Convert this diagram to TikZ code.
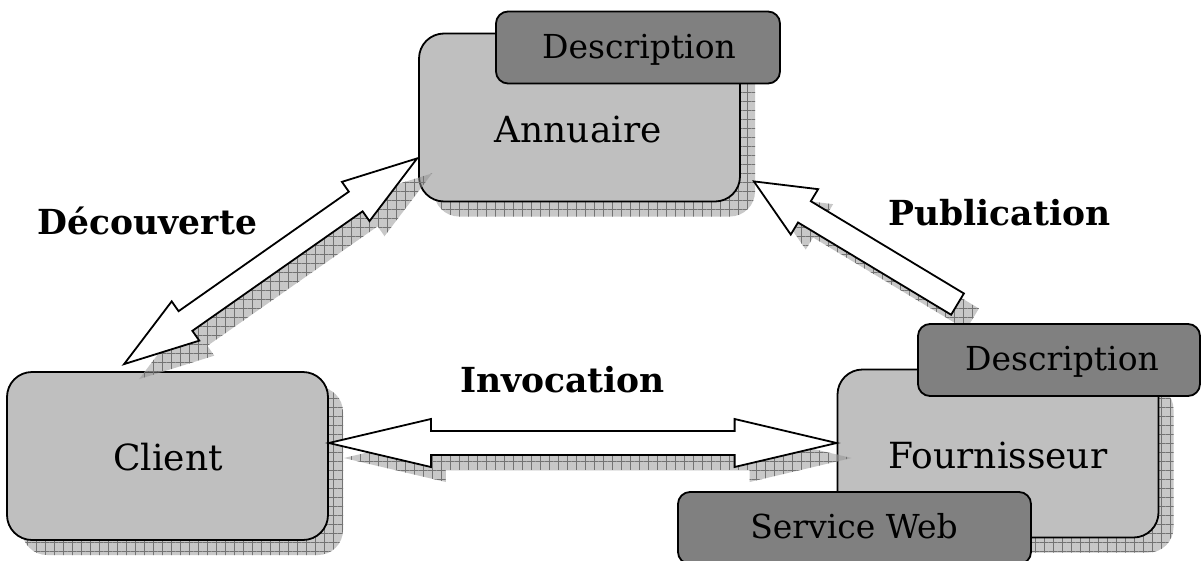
\documentclass[tikz,border=0pt]{standalone}
\usepackage{fontspec}
\setmainfont{DejaVu Serif}
\usetikzlibrary{calc,patterns.meta}

% Double-headed block arrow from #2 to #3: head length #4, head half-width #5, shaft half-width #6
\newcommand{\twowayarrow}[6]{%
  \path[#1] (#2)
    -- ($(#2)!#4!(#3)!#5!90:(#3)$) -- ($(#2)!#4!(#3)!#6!90:(#3)$)
    -- ($(#3)!#4!(#2)!#6!-90:(#2)$) -- ($(#3)!#4!(#2)!#5!-90:(#2)$)
    -- (#3)
    -- ($(#3)!#4!(#2)!#5!90:(#2)$) -- ($(#3)!#4!(#2)!#6!90:(#2)$)
    -- ($(#2)!#4!(#3)!#6!-90:(#3)$) -- ($(#2)!#4!(#3)!#5!-90:(#3)$)
    -- cycle;}
% Single block arrow from tail #2 to tip #3
\newcommand{\onewayarrow}[6]{%
  \path[#1] ($(#2)!#6!90:(#3)$)
    -- ($(#3)!#4!(#2)!#6!-90:(#2)$) -- ($(#3)!#4!(#2)!#5!-90:(#2)$)
    -- (#3)
    -- ($(#3)!#4!(#2)!#5!90:(#2)$) -- ($(#3)!#4!(#2)!#6!90:(#2)$)
    -- ($(#2)!#6!-90:(#3)$) -- cycle;}

\tikzset{
  bigbox/.style={draw=black, line width=1.8pt, fill=black!25, rounded corners=25pt,
    minimum width=321pt, minimum height=168pt, inner sep=0pt},
  tagbox/.style={draw=black, line width=1.8pt, fill=black!50, rounded corners=12pt,
    minimum height=72pt, inner sep=0pt},
  shade/.style={fill=black!43, fill opacity=0.5, draw=none,
    postaction={pattern={Hatch[angle=0,distance=9pt,line width=0.6pt]},
      pattern color=black!55, fill opacity=0.22}},
  boxshade/.style={shade, rounded corners=25pt, minimum width=321pt, minimum height=168pt,
    inner sep=0pt},
  blockarrow/.style={draw=black, line width=1.8pt, fill=white, line join=miter},
  boxtext/.style={anchor=base, font=\fontsize{36}{42}\selectfont},
  tagtext/.style={anchor=base, font=\fontsize{33}{39}\selectfont},
  flowtext/.style={anchor=base, font=\fontsize{34.5}{40}\selectfont\bfseries},
}

\begin{document}
\begin{tikzpicture}[x=1pt, y=-1pt]
\useasboundingbox (0,0) rectangle (1202,560);

% drop shadows of the three main boxes
\node[boxshade] (annuaireShade) at (594.5,132.5) {};
\node[boxshade] (clientShade) at (182.5,471) {};
\node[boxshade] (fournShade) at (1013,468.5) {};

% main boxes
\node[bigbox] (annuaire) at (579.5,117.5) {};
\node[bigbox] (client) at (167.5,456) {};
\node[bigbox] (fourn) at (998,453.5) {};

% arrow end points
\coordinate (decA) at ($(client.north west)+(118,-7)$);
\coordinate (decB) at ($(annuaire.south west)+(-1,-44)$);
\coordinate (invA) at ($(client.east)+(0,-13)$);
\coordinate (invB) at ($(fourn.west)+(0,-10.5)$);
\coordinate (pubT) at ($(fourn.north)+(-40.5,-64.5)$);
\coordinate (pubB) at ($(annuaire.south east)+(13,-21)$);
% shifted copies for the arrow shadows
\foreach \p in {decA,decB,invA,invB,pubT,pubB}
  \coordinate (\p s) at ($(\p)+(15,15)$);

% arrow shadows
\twowayarrow{shade}{decAs}{decBs}{75pt}{24pt}{12pt}
\twowayarrow{shade}{invAs}{invBs}{102pt}{24pt}{12pt}
\onewayarrow{shade}{pubTs}{pubBs}{59pt}{26.5pt}{12.4pt}

% description and service tags
\node[tagbox, minimum width=284pt] (desc1) at (638,47.5) {};
\node[tagbox, minimum width=282pt] (desc2) at (1059,360) {};
\node[tagbox, minimum width=353pt] (service) at (854.5,528) {};

% arrows
\twowayarrow{blockarrow}{decA}{decB}{75pt}{24pt}{12pt}
\twowayarrow{blockarrow}{invA}{invB}{102pt}{24pt}{12pt}
\onewayarrow{blockarrow}{pubT}{pubB}{59pt}{26.5pt}{12.4pt}

% box texts
\node[boxtext] (annuaireText) at (578,142) {Annuaire};
\node[boxtext] (clientText) at (168,470) {Client};
\node[boxtext] (fournText) at (998,468) {Fournisseur};
\node[tagtext] (desc1Text) at (639,58) {Description};
\node[tagtext] (desc2Text) at (1062,370) {Description};
\node[tagtext] (serviceText) at (854,538) {Service Web};

% interaction labels
\node[flowtext] (decText) at (147.5,234) {Découverte};
\node[flowtext] (pubText) at (999.5,225) {Publication};
\node[flowtext] (invText) at (562.5,392) {Invocation};
\end{tikzpicture}
\end{document}
